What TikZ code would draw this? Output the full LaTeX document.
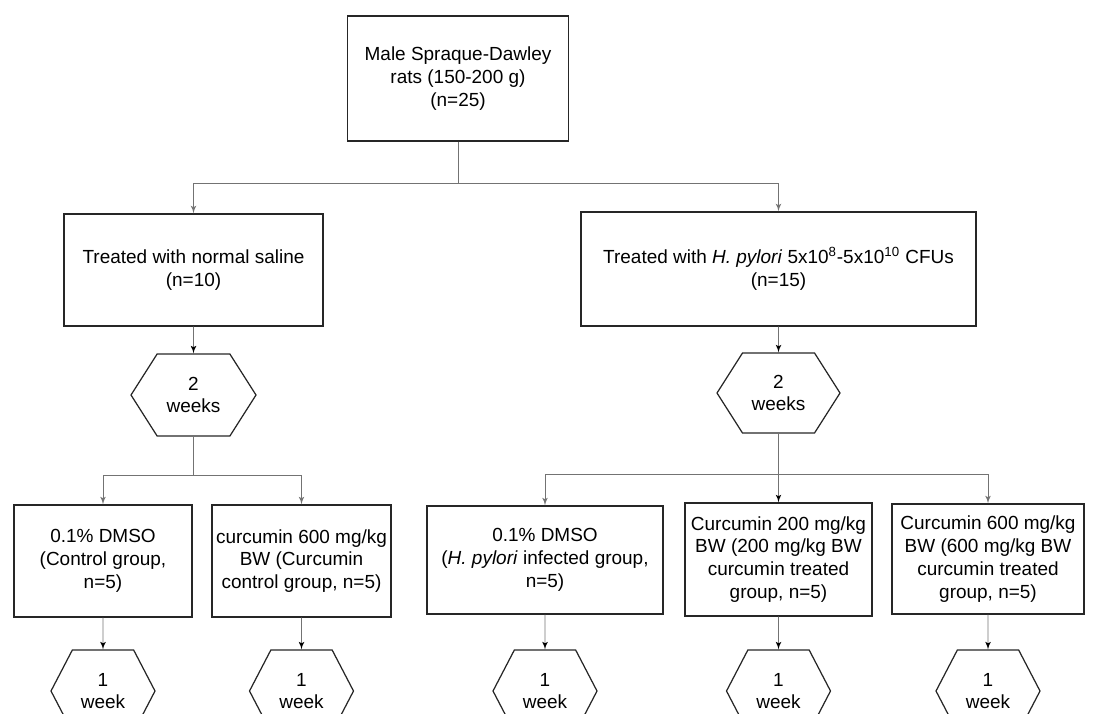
\documentclass[tikz,border=0pt]{standalone}
\usepackage{fontspec}
\setmainfont{Liberation Sans}
\usetikzlibrary{arrows,shapes.symbols}
\begin{document}
\begin{tikzpicture}
		\tikzset{box/.style = {shape=rectangle,draw=black!85,line width=.8pt,align=center,font=\fontsize{10.8}{13}\selectfont,inner sep=2pt}}
		\tikzset{hexa/.style = {shape=signal,signal to=west and east,signal pointer angle=115,draw=black!85,line width=.7pt,align=center,font=\fontsize{10.8}{13}\selectfont,inner sep=1pt,minimum width=2.5cm,minimum height=1.64cm}}
		\tikzset{line/.style = {draw=black!55,line width=.5pt}}
		\tikzset{edge/.style = {line,->,> = latex'}}
		\useasboundingbox (0,0) rectangle (21.98,-14.26);
		% first level
		\node[box,minimum width=4.42cm,minimum height=2.5cm] (rats) at (9.16,-1.57) {Male Spraque-Dawley\\rats (150-200 g)\\(n=25)};
		\node[box,minimum width=5.18cm,minimum height=2.24cm] (saline) at (3.87,-5.4) {Treated with normal saline\\(n=10)};
		\node[box,minimum width=7.9cm,minimum height=2.28cm] (hp) at (15.57,-5.38) {Treated with \textit{H. pylori} 5x10\textsuperscript{8}-5x10\textsuperscript{10} CFUs\\(n=15)};
		\node[hexa] (twoL) at (3.87,-7.9) {2\\weeks};
		\node[hexa,minimum width=2.46cm,minimum height=1.6cm] (twoR) at (15.57,-7.86) {2\\weeks};
		% groups
		\node[box,minimum width=3.56cm,minimum height=2.24cm] (dmso) at (2.06,-11.22) {0.1\% DMSO\\(Control group,\\n=5)};
		\node[box,minimum width=3.58cm,minimum height=2.24cm] (curc) at (6.03,-11.22) {curcumin 600 mg/kg\\BW (Curcumin\\control group, n=5)};
		\node[box,minimum width=4.72cm,minimum height=2.16cm] (hpd) at (10.9,-11.2) {0.1\% DMSO\\(\textit{H. pylori} infected group,\\n=5)};
		\node[box,minimum width=3.74cm,minimum height=2.26cm] (low) at (15.57,-11.19) {Curcumin 200 mg/kg\\BW (200 mg/kg BW\\curcumin treated\\group, n=5)};
		\node[box,minimum width=3.84cm,minimum height=2.2cm] (high) at (19.76,-11.18) {Curcumin 600 mg/kg\\BW (600 mg/kg BW\\curcumin treated\\group, n=5)};
		% one week
		\foreach \g in {dmso,curc,hpd,low,high}{
			\node[hexa,signal pointer angle=125,minimum width=2.08cm] (w\g) at (\g |- 0,-13.82) {1\\week};
			\path[edge] (\g) edge (w\g);
		}
		% connectors
		\coordinate (sa) at (9.16,-3.66);
		\coordinate (sb) at (3.87,-9.5);
		\coordinate (sc) at (15.57,-9.48);
		\path[line] (rats) -- (sa);
		\path[edge] (sa) -| (saline);
		\path[edge] (sa) -| (hp);
		\path[edge] (saline) edge (twoL);
		\path[edge] (hp) edge (twoR);
		\path[line] (twoL) -- (sb);
		\path[edge] (sb) -| (dmso);
		\path[edge] (sb) -| (curc);
		\path[edge] (twoR) edge (low);
		\path[edge] (sc) -| (hpd);
		\path[edge] (sc) -| (high);
	\end{tikzpicture}
\end{document}
